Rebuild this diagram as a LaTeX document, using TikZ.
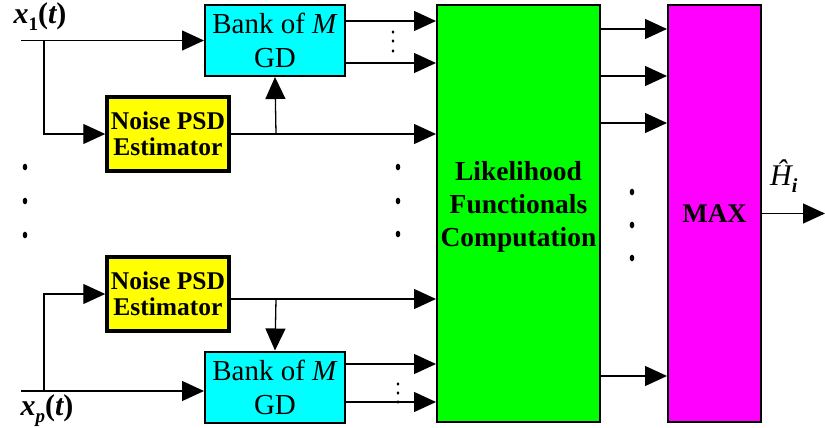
\documentclass[tikz,border=0pt]{standalone}
\usepackage{fontspec}
\setmainfont{Liberation Serif}
\usetikzlibrary{arrows.meta}
\definecolor{cyanfill}{RGB}{0,255,255}
\definecolor{yellowfill}{RGB}{255,255,0}
\definecolor{greenfill}{RGB}{0,255,0}
\definecolor{magfill}{RGB}{255,0,255}
\tikzset{
  conn/.style={line width=1.3pt, -{Triangle[length=22pt,width=20pt]}},
  box/.style={draw, inner sep=0pt, align=center},
  bankbox/.style={box, fill=cyanfill, line width=2pt, minimum width=140pt, minimum height=71pt,
    font=\fontsize{29}{34}\selectfont},
  noisebox/.style={box, fill=yellowfill, line width=3.5pt, minimum width=122pt, minimum height=74pt,
    font=\bfseries\fontsize{25.5}{26}\selectfont},
  tallbox/.style={box, line width=2pt, minimum height=417pt},
  lab/.style={inner sep=0pt, font=\fontsize{30}{30}\selectfont},
  dotmark/.style={fill=black},
}
\begin{document}
\begin{tikzpicture}[x=1pt,y=-1pt]
\useasboundingbox (0,0) rectangle (825,428);
% boxes
\node[bankbox] (bank1) at (275,40.5) {Bank of \textit{M}\\GD};
\node[noisebox] (noise1) at (168,134) {Noise PSD\\Estimator};
\node[noisebox] (noise2) at (168,294) {Noise PSD\\Estimator};
\node[bankbox] (bank2) at (275,387) {Bank of \textit{M}\\GD};
\node[tallbox, fill=greenfill, minimum width=163pt] (green) at (518.5,213.5) {};
\node[inner sep=0pt, align=center, font=\bfseries\fontsize{27.5}{33}\selectfont] (greentext) at (518.5,207) {Likelihood\\Functionals\\Computation};
\node[tallbox, fill=magfill, minimum width=93pt, font=\bfseries\fontsize{27}{27}\selectfont] (max) at (714.5,213.5) {MAX};
% labels
\node[lab] (x1lab) at (40,17) {\bfseries\itshape x\raisebox{-7pt}{\upshape\fontsize{19}{19}\selectfont 1}\upshape(\itshape t\upshape)};
\node[lab] (xplab) at (47,411) {\bfseries\itshape x\raisebox{-7pt}{\fontsize{19}{19}\selectfont p}\upshape(\itshape t\upshape)};
\node[lab, anchor=base west] (hlab) at (770,185) {\itshape Ĥ\raisebox{-7pt}{\bfseries\fontsize{20}{20}\selectfont i}};
% helper coordinates
\coordinate (in1) at (21,40.5);
\coordinate (b1) at (44,40.5);
\coordinate (j1) at (276,134);
\coordinate (in2) at (21,391);
\coordinate (b2) at (44,391);
\coordinate (y299) at (0,299);
\coordinate (j2) at (276,299);
\coordinate (y21) at (0,21);
\coordinate (y63) at (0,63);
\coordinate (y364) at (0,364);
\coordinate (y402) at (0,402);
\coordinate (y29) at (0,29);
\coordinate (y76) at (0,76);
\coordinate (y123) at (0,123);
\coordinate (y376) at (0,376);
\coordinate (outend) at (825,213.5);
% channel 1
\draw[conn] (in1) -- (bank1.west);
\draw[conn] (b1) |- (noise1.west);
\draw[conn] (noise1.east) -- (noise1.east -| green.west);
\draw[conn] (j1) -- (bank1.south);
\draw[conn] (bank1.east |- y21) -- (green.west |- y21);
\draw[conn] (bank1.east |- y63) -- (green.west |- y63);
% channel p
\draw[conn] (in2) -- (in2 -| bank2.west);
\draw[conn] (b2) |- (noise2.west);
\draw[conn] (noise2.east |- y299) -- (green.west |- y299);
\draw[conn] (j2) -- (bank2.north);
\draw[conn] (bank2.east |- y364) -- (green.west |- y364);
\draw[conn] (bank2.east |- y402) -- (green.west |- y402);
% to max
\draw[conn] (green.east |- y29) -- (max.west |- y29);
\draw[conn] (green.east |- y76) -- (max.west |- y76);
\draw[conn] (green.east |- y123) -- (max.west |- y123);
\draw[conn] (green.east |- y376) -- (max.west |- y376);
\draw[conn] (max.east) -- (outend);
% dots
\foreach \yy in {167,201,235} {\fill[dotmark] (25,\yy) ellipse (2.3 and 3.3);}
\foreach \yy in {167,201,234} {\fill[dotmark] (398,\yy) ellipse (2.3 and 3.3);}
\foreach \yy in {192,225,258} {\fill[dotmark] (632,\yy) ellipse (2.3 and 3.3);}
\foreach \yy in {32,41,51} {\fill[dotmark] (393,\yy) ellipse (1.4 and 1.8);}
\foreach \yy in {384,393,402} {\fill[dotmark] (398,\yy) ellipse (1.4 and 1.8);}
\end{tikzpicture}
\end{document}
